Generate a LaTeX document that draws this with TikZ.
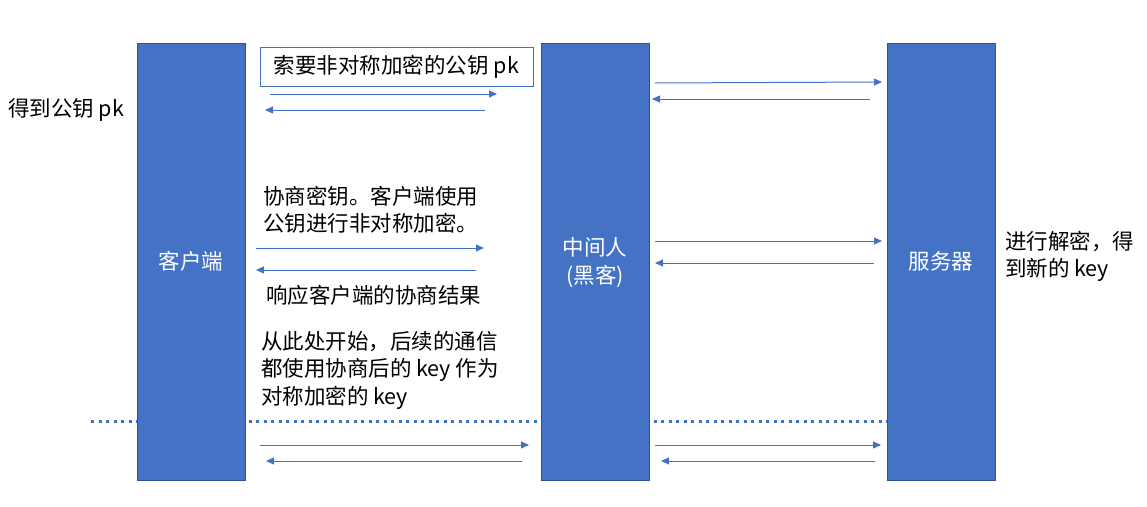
\documentclass[tikz,border=0pt]{standalone}
\usepackage{fontspec}
\setmainfont{Noto Sans CJK SC}
\usetikzlibrary{arrows.meta}
\definecolor{bx}{HTML}{4472C4}
\definecolor{bxd}{HTML}{2F528F}
\tikzset{
  party/.style={draw=bxd, line width=0.8pt, fill=bx, minimum width=108pt, minimum height=437pt, inner sep=0pt},
  msg/.style={draw=bx, line width=1pt, -{Triangle[length=8pt,width=7pt]}},
  lbl/.style={font=\fontsize{21.5}{27.5}\selectfont, inner sep=0pt, align=left},
  plbl/.style={font=\fontsize{21.5}{27.5}\selectfont, text=white, align=center, inner sep=0pt},
}
\begin{document}
\begin{tikzpicture}[x=1pt,y=-1pt]
\useasboundingbox (0,0) rectangle (1147,506);
% dotted divider (behind the boxes)
\coordinate (dL) at (91,421);
\coordinate (dR) at (887,421);
\draw[bx, line width=3pt, dash pattern=on 3pt off 4.5pt] (dL) -- (dR);
% lifelines
\node[party] (client) at (191,261.5) {};
\node[party] (mitm) at (595,261.5) {};
\node[party] (server) at (941,261.5) {};
\node[plbl] at (client) {客户端};
\node[plbl] at ([yshift=-1pt]mitm) {中间人\\(黑客)};
\node[plbl] at (server) {服务器};
% request box
\node[draw=bx, line width=1pt, fill=white, minimum width=273pt, minimum height=39pt, inner sep=0pt, font=\fontsize{21.5}{24}\selectfont] (req) at (396.5,66.5) {索要非对称加密的公钥 pk};
% arrow endpoints
\coordinate (a1s) at (270,94);  \coordinate (a1e) at (497,94);
\coordinate (b1s) at (485,110); \coordinate (b1e) at (265,110);
\coordinate (a2s) at (655,83);  \coordinate (a2e) at (882,82);
\coordinate (b2s) at (870,99);  \coordinate (b2e) at (652,99);
\coordinate (a3s) at (256,248); \coordinate (a3e) at (484,248);
\coordinate (b3s) at (476,270); \coordinate (b3e) at (256,270);
\coordinate (a4s) at (655,241); \coordinate (a4e) at (882,241);
\coordinate (b4s) at (874,263); \coordinate (b4e) at (655,263);
\coordinate (a5s) at (260,445); \coordinate (a5e) at (529,445);
\coordinate (b5s) at (522,461); \coordinate (b5e) at (266,461);
\coordinate (a6s) at (655,445); \coordinate (a6e) at (881,445);
\coordinate (b6s) at (875,461); \coordinate (b6e) at (661,461);
\foreach \p in {1,...,6} {
  \draw[msg] (a\p s) -- (a\p e);
  \draw[msg] (b\p s) -- (b\p e);
}
% labels
\node[lbl, anchor=west] (t0) at (8,110) {得到公钥 pk};
\node[lbl, anchor=west] (t1) at (263,210) {协商密钥。客户端使用\\公钥进行非对称加密。};
\node[lbl, anchor=west] (t2) at (266,295) {响应客户端的协商结果};
\node[lbl, anchor=west] (t3) at (261,370) {从此处开始，后续的通信\\都使用协商后的 key 作为\\对称加密的 key};
\node[lbl, anchor=west] (t4) at (1005,256.5) {进行解密，得\\到新的 key};
\end{tikzpicture}
\end{document}
